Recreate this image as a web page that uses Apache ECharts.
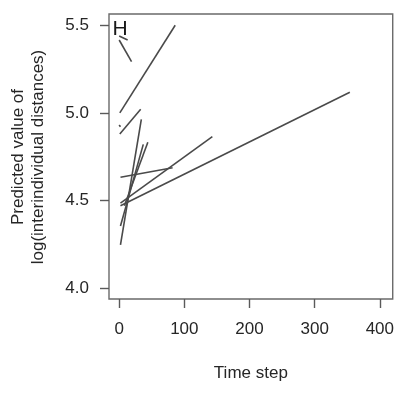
<!DOCTYPE html>
<html>
<head>
<meta charset="utf-8">
<script src="https://cdn.jsdelivr.net/npm/echarts@6/dist/echarts.min.js"></script>
<style>
html,body{margin:0;padding:0;background:#fff;}
#c{width:397px;height:394px;}
</style>
</head>
<body>
<div id="c"></div>
<script>
// Segment data (time step, predicted log distance)
var segX0 = [0, 0, 1, 1, 0, 2, 2, 2, 2, 2, 8];
var segY0 = [5.439, 5.416, 5.00, 4.879, 4.931, 4.469, 4.484, 4.632, 4.246, 4.354, 4.47];
var segX1 = [13, 19, 86, 33, 2, 354, 143, 82, 34, 37, 44];
var segY1 = [5.416, 5.292, 5.50, 5.02, 4.921, 5.118, 4.864, 4.687, 4.963, 4.82, 4.832];
var xTicks = [0, 100, 200, 300, 400];
var yTicks = [4.0, 4.5, 5.0, 5.5];
var xTitle = 'Time step';
var yTitle1 = 'Predicted value of';
var yTitle2 = 'log(interindividual distances)';
var panelLabel = 'H';

var font = '"Liberation Sans", Arial, sans-serif';
var textColor = '#262626';
var series = segX0.map(function (x0, i) {
  return {
    type: 'line',
    data: [[x0, segY0[i]], [segX1[i], segY1[i]]],
    symbol: 'none',
    silent: true,
    lineStyle: { color: '#4a4a4a', width: 1.6 }
  };
});

var chart = echarts.init(document.getElementById('c'), null, { renderer: 'canvas' });
chart.setOption({
  animation: false,
  backgroundColor: '#fff',
  grid: { left: 109, right: 1.5, top: 14, bottom: 95, show: true, borderColor: '#6a6a6a', borderWidth: 1.4, backgroundColor: 'transparent' },
  xAxis: {
    type: 'value', min: -15.6, max: 419.8,
    axisLine: { show: false, onZero: false },
    splitLine: { show: false },
    axisTick: { show: true, inside: false, length: 9, customValues: xTicks, lineStyle: { color: '#5a5a5a', width: 1.4 } },
    axisLabel: { customValues: xTicks, margin: 22, fontSize: 17, fontFamily: font, color: textColor },
    name: xTitle, nameLocation: 'middle', nameGap: 66,
    nameTextStyle: { fontSize: 17, fontFamily: font, color: textColor }
  },
  yAxis: {
    type: 'value', min: 3.937, max: 5.5645,
    axisLine: { show: false, onZero: false },
    splitLine: { show: false },
    axisTick: { show: true, inside: false, length: 9, customValues: yTicks, lineStyle: { color: '#5a5a5a', width: 1.4 } },
    axisLabel: { customValues: yTicks, margin: 20, fontSize: 17, fontFamily: font, color: textColor,
      formatter: function (v) { return Number(v).toFixed(1); } }
  },
  graphic: [
    { type: 'text', x: 18.3, y: 157, rotation: Math.PI / 2,
      style: { text: yTitle1, fontSize: 17, fontFamily: font, fill: textColor, textAlign: 'center', textVerticalAlign: 'middle' } },
    { type: 'text', x: 38.3, y: 157, rotation: Math.PI / 2,
      style: { text: yTitle2, fontSize: 17, fontFamily: font, fill: textColor, textAlign: 'center', textVerticalAlign: 'middle' } },
    { type: 'text', x: 112.5, y: 29.5,
      style: { text: panelLabel, fontSize: 21, fontFamily: font, fill: '#1a1a1a', textAlign: 'left', textVerticalAlign: 'middle' } }
  ],
  series: series
});
</script>
</body>
</html>
